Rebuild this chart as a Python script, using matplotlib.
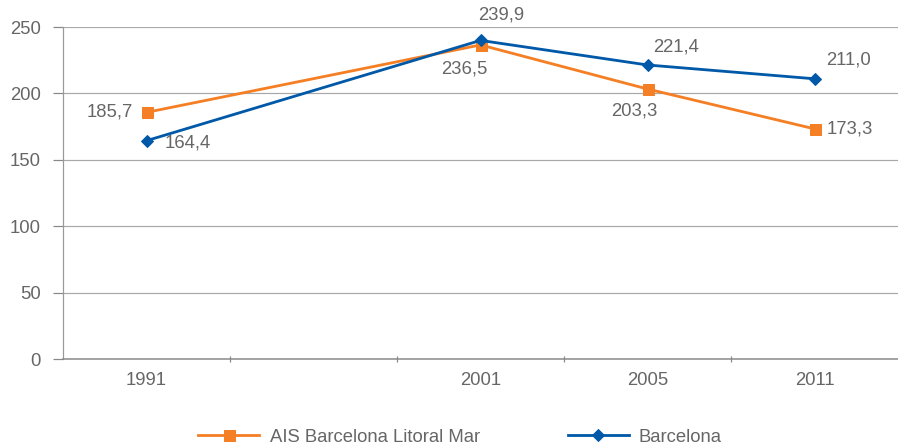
import matplotlib
matplotlib.use('Agg')
import matplotlib.pyplot as plt

# categories on the x axis (one empty slot between 1991 and 2001)
categories = ['1991', '', '2001', '2005', '2011']
years = ['1991', '2001', '2005', '2011']
ais_values = [185.7, 236.5, 203.3, 173.3]
bcn_values = [164.4, 239.9, 221.4, 211.0]
ais_name = 'AIS Barcelona Litoral Mar'
bcn_name = 'Barcelona'

orange = '#F47F24'
blue = '#0059A8'
text_grey = '#666666'
fs = 18.5
plt.rcParams['font.family'] = ['Liberation Sans', 'DejaVu Sans']

fig = plt.figure(figsize=(898 / 72, 446 / 72), dpi=72)
ax = fig.add_axes([63 / 898, 87 / 446, 835 / 898, 332 / 446])

xpos = [categories.index(y) for y in years]
ax.plot(xpos, ais_values, color=orange, lw=2.8, marker='s', ms=11,
        label=ais_name, zorder=3)
ax.plot(xpos, bcn_values, color=blue, lw=2.8, marker='D', ms=9,
        label=bcn_name, zorder=4)

# data labels, offsets in points (= pixels at 72 dpi)
ais_offsets = [(-14, 0, 'right'), (-16, -24, 'center'), (-13, -22, 'center'), (12, 0, 'left')]
bcn_offsets = [(18, -2, 'left'), (21, 25, 'center'), (29, 18, 'center'), (34, 19, 'center')]
for x, v, (dx, dy, ha) in zip(xpos, ais_values, ais_offsets):
    ax.annotate(f'{v:.1f}'.replace('.', ','), (x, v), xytext=(dx, dy),
                textcoords='offset points', ha=ha, va='center',
                fontsize=fs, color=text_grey)
for x, v, (dx, dy, ha) in zip(xpos, bcn_values, bcn_offsets):
    ax.annotate(f'{v:.1f}'.replace('.', ','), (x, v), xytext=(dx, dy),
                textcoords='offset points', ha=ha, va='center',
                fontsize=fs, color=text_grey)

ax.set_xlim(-0.5, len(categories) - 0.5)
ax.set_ylim(0, 250)
ax.set_yticks([0, 50, 100, 150, 200, 250])
ax.yaxis.grid(True, color='#a8a8a8', lw=1.2)
ax.set_axisbelow(True)

ax.set_xticks(range(len(categories)))
ax.set_xticklabels(categories)
ax.set_xticks([i + 0.5 for i in range(len(categories) - 1)], minor=True)
ax.tick_params(axis='x', which='major', length=0, pad=13, labelsize=fs,
               labelcolor=text_grey)
ax.tick_params(axis='x', which='minor', length=6, direction='inout',
               color='#888888', width=1.2)
ax.tick_params(axis='y', length=10, width=1.2, color='#888888', pad=12,
               labelsize=fs, labelcolor=text_grey)

for s in ['top', 'right']:
    ax.spines[s].set_visible(False)
ax.spines['left'].set_color('#999999')
ax.spines['bottom'].set_color('#888888')
ax.spines['left'].set_linewidth(1.2)
ax.spines['bottom'].set_linewidth(1.5)

fig.legend(loc='center', bbox_to_anchor=(460 / 898, 1 - 437 / 446), ncol=2,
           frameon=False, fontsize=fs, labelcolor=text_grey,
           handlelength=3.3, handletextpad=0.55, columnspacing=4.75)

fig.savefig('out.png', dpi=72)
